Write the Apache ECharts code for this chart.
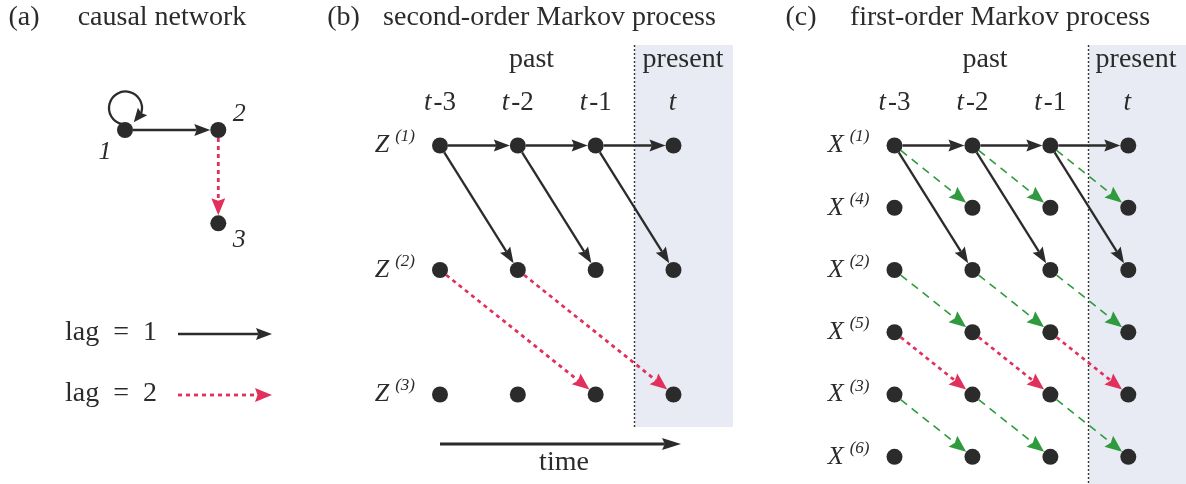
<!DOCTYPE html>
<html><head><meta charset="utf-8">
<script src="https://cdn.jsdelivr.net/npm/echarts@6/dist/echarts.min.js"></script>
<style>html,body{margin:0;padding:0;background:#fff}#c{width:1186px;height:484px}</style>
</head><body><div id="c"></div><script>
// ---------- data ----------
const timeLabels = ['t-3', 't-2', 't-1', 't'];
const zRows = ['1', '2', '3'];
const xRows = ['1', '4', '2', '5', '3', '6'];
const netNodes = ['1', '2', '3'];
const netPos = [[0, 0], [1, 0], [1, 1]];          // causal network layout (node index space)
// edges: [fromStep, fromRow, toStep, toRow, kind]; kind 1 = lag 1, 2 = lag 2, 3 = auxiliary lag 1
const netEdges = [[0, 0, 0, 0, 1], [0, 0, 1, 0, 1], [1, 0, 1, 1, 2]];
const zEdges = [
  [0, 0, 1, 0, 1], [1, 0, 2, 0, 1], [2, 0, 3, 0, 1],
  [0, 0, 1, 1, 1], [1, 0, 2, 1, 1], [2, 0, 3, 1, 1],
  [0, 1, 2, 2, 2], [1, 1, 3, 2, 2]
];
const xEdges = [
  [0, 0, 1, 0, 1], [1, 0, 2, 0, 1], [2, 0, 3, 0, 1],
  [0, 0, 1, 2, 1], [1, 0, 2, 2, 1], [2, 0, 3, 2, 1],
  [0, 0, 1, 1, 3], [1, 0, 2, 1, 3], [2, 0, 3, 1, 3],
  [0, 2, 1, 3, 3], [1, 2, 2, 3, 3], [2, 2, 3, 3, 3],
  [0, 3, 1, 4, 2], [1, 3, 2, 4, 2], [2, 3, 3, 4, 2],
  [0, 4, 1, 5, 3], [1, 4, 2, 5, 3], [2, 4, 3, 5, 3]
];
const legendLabels = ['lag\u2002=\u20021', 'lag\u2002=\u20022'];

// ---------- styles ----------
const INK = '#2b2b2b', RED = '#e0305b', GREEN = '#2f9b3e', SHADE = '#e8ebf4';
const SERIF = '"Liberation Serif", "DejaVu Serif", serif';
const NODE = 16;
const kindStyle = {
  1: { color: INK, width: 2.3, dash: null, headL: 16, headW: 6, notch: 0.85 },
  2: { color: RED, width: 2.8, dash: [4, 4], headL: 17, headW: 7, notch: 0.85 },
  3: { color: GREEN, width: 1.6, dash: [8, 6], headL: 17, headW: 7, notch: 0.85 }
};
const netLabelOffset = [[-20, 22], [21, -16], [21, 17]];

function headPoints(tip, ux, uy, st) {
  const nx = -uy, ny = ux;
  const bx = tip[0] - ux * st.headL, by = tip[1] - uy * st.headL;
  const k = st.notch || 0.85;
  const notch = [tip[0] - ux * st.headL * k, tip[1] - uy * st.headL * k];
  return { pts: [tip, [bx + nx * st.headW, by + ny * st.headW], notch, [bx - nx * st.headW, by - ny * st.headW]], notch: notch };
}
function arrowChildren(s, tip, st) {
  const dx = tip[0] - s[0], dy = tip[1] - s[1];
  const L = Math.hypot(dx, dy) || 1;
  const ux = dx / L, uy = dy / L;
  const h = headPoints(tip, ux, uy, st);
  const ls = { stroke: st.color, lineWidth: st.width, fill: null };
  if (st.dash) ls.lineDash = st.dash;
  return [
    { type: 'line', shape: { x1: s[0], y1: s[1], x2: h.notch[0], y2: h.notch[1] }, style: ls },
    { type: 'polygon', shape: { points: h.pts }, style: { fill: st.color } }
  ];
}
function renderEdge(params, api) {
  const p1 = api.coord([api.value(0), api.value(1)]);
  const p2 = api.coord([api.value(2), api.value(3)]);
  const st = kindStyle[api.value(4)];
  const r = NODE / 2;
  if (Math.abs(p1[0] - p2[0]) < 0.5 && Math.abs(p1[1] - p2[1]) < 0.5) {
    // self loop
    const cx = p1[0] + 0.5, cy = p1[1] - 22, R = 16.5;
    const a0 = 105 * Math.PI / 180, a1 = 378 * Math.PI / 180, aT = 60 * Math.PI / 180;
    const base = [cx + R * Math.cos(a1), cy + R * Math.sin(a1)];
    const tip = [cx + R * Math.cos(aT), cy + R * Math.sin(aT)];
    const dx = tip[0] - base[0], dy = tip[1] - base[1], L = Math.hypot(dx, dy);
    const h = headPoints(tip, dx / L, dy / L, { headL: 14, headW: 6, notch: 0.85 });
    return { type: 'group', children: [
      { type: 'arc', shape: { cx: cx, cy: cy, r: R, startAngle: a0, endAngle: a1 + 0.05, clockwise: true }, style: { stroke: st.color, lineWidth: st.width, fill: null } },
      { type: 'polygon', shape: { points: h.pts }, style: { fill: st.color } }
    ] };
  }
  const dx = p2[0] - p1[0], dy = p2[1] - p1[1];
  const L = Math.hypot(dx, dy), ux = dx / L, uy = dy / L;
  const s = [p1[0] + ux * r, p1[1] + uy * r];
  const tip = [p2[0] - ux * r, p2[1] - uy * r];
  return { type: 'group', children: arrowChildren(s, tip, st) };
}

function gridNodes(nSteps, nRows) {
  const out = [];
  for (let i = 0; i < nSteps; i++) for (let j = 0; j < nRows; j++) out.push([i, j]);
  return out;
}

const labelFont = { fontFamily: SERIF, color: INK };
function timeFmt(v) {
  const s = timeLabels[Math.round(v)] || '';
  return '{i|' + s[0] + '}{n|' + s.slice(1) + '}';
}
const timeRich = {
  i: Object.assign({ fontSize: 27, fontStyle: 'italic', lineHeight: 28, padding: [0, 2, 0, 0] }, labelFont),
  n: Object.assign({ fontSize: 27, lineHeight: 28 }, labelFont)
};
const rowRich = {
  v: Object.assign({ fontSize: 26, fontStyle: 'italic', lineHeight: 28 }, labelFont),
  s: Object.assign({ fontSize: 17, fontStyle: 'italic', lineHeight: 17, padding: [0, 0, 17, 6] }, labelFont)
};
function hiddenAxis(grid, max, extra) {
  return Object.assign({ gridIndex: grid, type: 'value', min: 0, max: max, show: false }, extra || {});
}
function timeAxis(grid) {
  return { gridIndex: grid, type: 'value', min: 0, max: 3, interval: 1, position: 'top',
    axisLine: { show: false }, axisTick: { show: false }, splitLine: { show: false },
    axisLabel: { margin: 29, formatter: timeFmt, rich: timeRich } };
}
function rowAxis(grid, rows, letter) {
  return { gridIndex: grid, type: 'value', min: 0, max: rows.length - 1, interval: 1, inverse: true,
    axisLine: { show: false }, axisTick: { show: false }, splitLine: { show: false },
    axisLabel: { margin: 25, formatter: function (v) { return '{v|' + letter + '}{s|(' + rows[Math.round(v)] + ')}'; }, rich: rowRich } };
}

// ---------- decorations ----------
function txt(x, y, text, size, extra) {
  return Object.assign({ type: 'text', x: x, y: y, z: 1, style: { text: text, fontFamily: SERIF, fontSize: size, fill: INK, align: 'center', verticalAlign: 'middle' } }, extra || {});
}
const graphics = [
  { type: 'rect', z: 0, shape: { x: 635, y: 45, width: 98, height: 382 }, style: { fill: SHADE } },
  { type: 'rect', z: 0, shape: { x: 1089, y: 45, width: 97, height: 439 }, style: { fill: SHADE } },
  { type: 'line', z: 1, shape: { x1: 634.5, y1: 45, x2: 634.5, y2: 427 }, style: { stroke: '#333', lineWidth: 1.4, lineDash: [2, 2] } },
  { type: 'line', z: 1, shape: { x1: 1088.5, y1: 45, x2: 1088.5, y2: 484 }, style: { stroke: '#333', lineWidth: 1.4, lineDash: [2, 2] } },
  txt(24, 18, '(a)', 28), txt(162, 18, 'causal network', 28),
  txt(343.5, 18, '(b)', 28), txt(549.5, 18, 'second-order Markov process', 28),
  txt(801, 18, '(c)', 28), txt(1000, 18, 'first-order Markov process', 28),
  txt(531.5, 60, 'past', 28), txt(683, 60, 'present', 28),
  txt(985, 60, 'past', 28), txt(1136, 60, 'present', 28),
  txt(564, 463, 'time', 28),
  txt(111, 333, legendLabels[0], 28), txt(111, 394, legendLabels[1], 28)
];
function addArrow(s, tip, st) {
  arrowChildren(s, tip, st).forEach(function (c) { c.z = 2; graphics.push(c); });
}
addArrow([440, 444], [681, 444], { color: INK, width: 3, dash: null, headL: 19, headW: 6, notch: 0.85 });
addArrow([178, 334], [272, 334], kindStyle[1]);
addArrow([178, 395], [272, 395], kindStyle[2]);

// ---------- chart ----------
const chart = echarts.init(document.getElementById('c'), null, { renderer: 'canvas' });
chart.setOption({
  animation: false,
  backgroundColor: '#fff',
  graphic: { elements: graphics },
  grid: [
    { left: 125, top: 130, width: 93.3, height: 93.3 },
    { left: 440, top: 145.5, width: 233.5, height: 249 },
    { left: 894.5, top: 145.5, width: 233.8, height: 311.3 }
  ],
  xAxis: [hiddenAxis(0, 1), timeAxis(1), timeAxis(2)],
  yAxis: [hiddenAxis(0, 1, { inverse: true }), rowAxis(1, zRows, 'Z'), rowAxis(2, xRows, 'X')],
  series: [
    { type: 'custom', xAxisIndex: 0, yAxisIndex: 0, z: 5, silent: true, renderItem: renderEdge, data: netEdges },
    { type: 'custom', xAxisIndex: 1, yAxisIndex: 1, z: 5, silent: true, renderItem: renderEdge, data: zEdges },
    { type: 'custom', xAxisIndex: 2, yAxisIndex: 2, z: 5, silent: true, renderItem: renderEdge, data: xEdges },
    { type: 'scatter', xAxisIndex: 0, yAxisIndex: 0, z: 6, silent: true, symbolSize: NODE, itemStyle: { color: INK, opacity: 1 },
      data: netPos.map(function (p, i) {
        return { value: p, label: { show: true, position: 'inside', offset: netLabelOffset[i], formatter: netNodes[i],
          fontFamily: SERIF, fontStyle: 'italic', fontSize: 26, color: INK } };
      }) },
    { type: 'scatter', xAxisIndex: 1, yAxisIndex: 1, z: 6, silent: true, symbolSize: NODE, itemStyle: { color: INK, opacity: 1 }, data: gridNodes(timeLabels.length, zRows.length) },
    { type: 'scatter', xAxisIndex: 2, yAxisIndex: 2, z: 6, silent: true, symbolSize: NODE, itemStyle: { color: INK, opacity: 1 }, data: gridNodes(timeLabels.length, xRows.length) }
  ]
});
</script></body></html>
